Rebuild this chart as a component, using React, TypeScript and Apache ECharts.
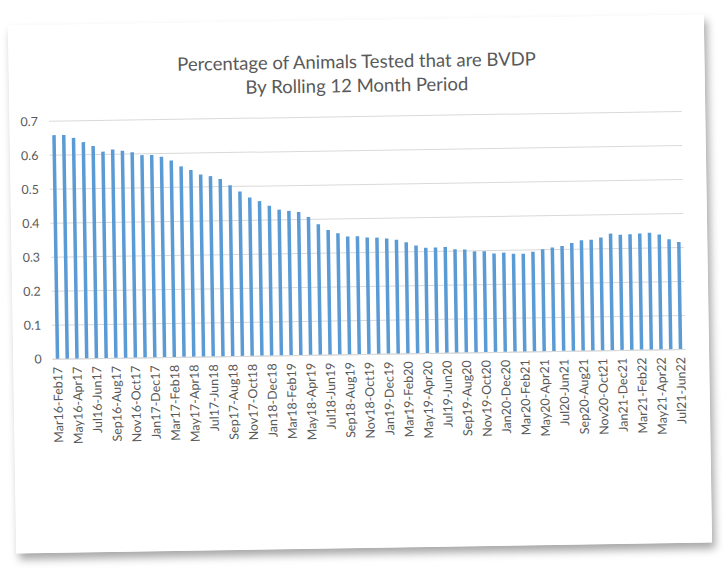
import React, { useEffect, useRef } from "react";
import * as echarts from "echarts";

const TITLE_LINE_1 = "Percentage of Animals Tested that are BVDP";
const TITLE_LINE_2 = "By Rolling 12 Month Period";

const categories = [
  "Mar16-Feb17", "Apr16-Mar17", "May16-Apr17", "Jun16-May17", "Jul16-Jun17", "Aug16-Jul17",
  "Sep16-Aug17", "Oct16-Sep17", "Nov16-Oct17", "Dec16-Nov17",
  "Jan17-Dec17", "Feb17-Jan18", "Mar17-Feb18", "Apr17-Mar18", "May17-Apr18", "Jun17-May18",
  "Jul17-Jun18", "Aug17-Jul18", "Sep17-Aug18", "Oct17-Sep18", "Nov17-Oct18", "Dec17-Nov18",
  "Jan18-Dec18", "Feb18-Jan19", "Mar18-Feb19", "Apr18-Mar19", "May18-Apr19", "Jun18-May19",
  "Jul18-Jun19", "Aug18-Jul19", "Sep18-Aug19", "Oct18-Sep19", "Nov18-Oct19", "Dec18-Nov19",
  "Jan19-Dec19", "Feb19-Jan20", "Mar19-Feb20", "Apr19-Mar20", "May19-Apr20", "Jun19-May20",
  "Jul19-Jun20", "Aug19-Jul20", "Sep19-Aug20", "Oct19-Sep20", "Nov19-Oct20", "Dec19-Nov20",
  "Jan20-Dec20", "Feb20-Jan21", "Mar20-Feb21", "Apr20-Mar21", "May20-Apr21", "Jun20-May21",
  "Jul20-Jun21", "Aug20-Jul21", "Sep20-Aug21", "Oct20-Sep21", "Nov20-Oct21", "Dec20-Nov21",
  "Jan21-Dec21", "Feb21-Jan22", "Mar21-Feb22", "Apr21-Mar22", "May21-Apr22", "Jun21-May22",
  "Jul21-Jun22",
];

const bvdpShare = [
  0.659, 0.659, 0.650, 0.637, 0.625, 0.608, 0.614, 0.610, 0.605, 0.596,
  0.596, 0.590, 0.579, 0.561, 0.550, 0.536, 0.531, 0.522, 0.503, 0.484,
  0.466, 0.455, 0.441, 0.429, 0.425, 0.421, 0.406, 0.384, 0.367, 0.357,
  0.347, 0.347, 0.343, 0.342, 0.339, 0.335, 0.327, 0.317, 0.310, 0.310,
  0.311, 0.304, 0.303, 0.297, 0.297, 0.290, 0.292, 0.288, 0.288, 0.293,
  0.300, 0.305, 0.309, 0.317, 0.325, 0.326, 0.332, 0.343, 0.339, 0.340,
  0.342, 0.344, 0.338, 0.324, 0.315,
];

const yTicks = { min: 0, max: 0.7, interval: 0.1 };

const FONT = "Lato, 'Open Sans', sans-serif";
const TEXT_COLOR = "#595959";

export default function App() {
  const ref = useRef<HTMLDivElement>(null);

  useEffect(() => {
    if (!ref.current) return;
    const chart = echarts.init(ref.current, undefined, { renderer: "svg" });
    chart.setOption({
      animation: false,
      backgroundColor: "#ffffff",
      title: {
        text: TITLE_LINE_1 + "\n" + TITLE_LINE_2,
        left: 343,
        top: 24,
        textAlign: "center",
        textStyle: {
          fontFamily: FONT,
          fontSize: 18.5,
          fontWeight: "normal",
          color: TEXT_COLOR,
          lineHeight: 24,
        },
      },
      grid: { left: 39.5, right: 23.7, top: 96.4, bottom: 194, containLabel: false },
      xAxis: {
        type: "category",
        data: categories,
        boundaryGap: true,
        axisLine: { show: true, lineStyle: { color: "#d9d9d9", width: 1 } },
        axisTick: { show: false },
        axisLabel: {
          interval: 1,
          rotate: 90,
          margin: 8,
          fontFamily: FONT,
          fontSize: 12.5,
          color: TEXT_COLOR,
        },
      },
      yAxis: {
        type: "value",
        min: yTicks.min,
        max: yTicks.max,
        interval: yTicks.interval,
        axisLine: { show: false },
        axisTick: { show: false },
        splitLine: { lineStyle: { color: "#d9d9d9", width: 1 } },
        axisLabel: {
          margin: 11,
          fontFamily: FONT,
          fontSize: 12.5,
          color: TEXT_COLOR,
          formatter: (v: number) => (Math.round(v * 10) / 10).toString(),
        },
      },
      series: [
        {
          type: "bar",
          data: bvdpShare,
          barCategoryGap: "64%",
          itemStyle: { color: "#5b9bd5" },
        },
      ],
    });
    return () => chart.dispose();
  }, []);

  return (
    <div
      style={{
        position: "absolute",
        left: 12,
        top: 20,
        width: 696,
        height: 528,
        background: "#ffffff",
        boxShadow: "3px 6px 9px rgba(0,0,0,0.35)",
        transform: "rotate(-0.9deg)",
        transformOrigin: "50% 50%",
      }}
    >
      <div ref={ref} style={{ width: 696, height: 528 }} />
    </div>
  );
}
